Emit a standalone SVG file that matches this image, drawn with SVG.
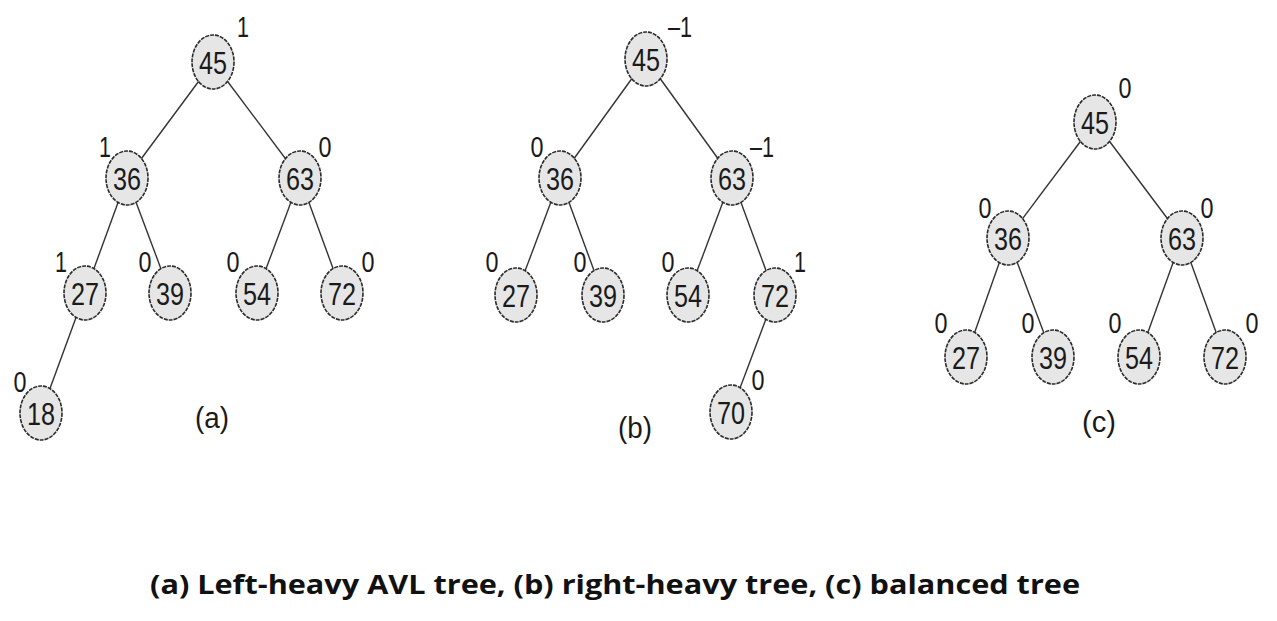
<svg xmlns="http://www.w3.org/2000/svg" width="1277" height="621" viewBox="0 0 1277 621">
<style>
.n ellipse{fill:#e6e6e6;stroke:#2a2a2a;stroke-width:1.6;stroke-dasharray:4 1}
.n text{font-family:"Liberation Sans",Arial,sans-serif;font-size:32px;fill:#1a1a1a;text-anchor:middle}
.b{font-family:"Liberation Sans",Arial,sans-serif;font-size:29px;fill:#1a1a1a;text-anchor:middle}
.lbl{font-family:"Liberation Sans",Arial,sans-serif;font-size:30px;fill:#1a1a1a;text-anchor:middle}
#edges line{stroke:#333;stroke-width:1.4}
.cap{font-family:"Open Sans","Liberation Sans",sans-serif;font-weight:bold;font-size:27px;fill:#111;text-anchor:middle}
</style>
<rect width="1277" height="621" fill="#fff"/>
<g id="edges">
<line x1="213" y1="62" x2="127" y2="178"/><line x1="213" y1="62" x2="300" y2="178"/>
<line x1="127" y1="178" x2="85" y2="293"/><line x1="127" y1="178" x2="170" y2="293"/>
<line x1="300" y1="178" x2="257" y2="293"/><line x1="300" y1="178" x2="342" y2="293"/>
<line x1="85" y1="293" x2="41" y2="413"/>
<line x1="646" y1="59" x2="560" y2="178"/><line x1="646" y1="59" x2="732" y2="178"/>
<line x1="560" y1="178" x2="516" y2="295"/><line x1="560" y1="178" x2="603" y2="295"/>
<line x1="732" y1="178" x2="688" y2="295"/><line x1="732" y1="178" x2="775" y2="295"/>
<line x1="775" y1="295" x2="731" y2="412"/>
<line x1="1095" y1="122" x2="1008" y2="238"/><line x1="1095" y1="122" x2="1182" y2="238"/>
<line x1="1008" y1="238" x2="966" y2="357"/><line x1="1008" y1="238" x2="1053" y2="357"/>
<line x1="1182" y1="238" x2="1139" y2="357"/><line x1="1182" y1="238" x2="1225" y2="357"/>
</g>
<!-- tree a -->
<g id="a45" class="n"><ellipse cx="213" cy="62" rx="21" ry="27"/><text x="213" y="74" textLength="28" lengthAdjust="spacingAndGlyphs">45</text></g>
<g id="a36" class="n"><ellipse cx="127" cy="178" rx="21" ry="27"/><text x="127" y="190" textLength="28" lengthAdjust="spacingAndGlyphs">36</text></g>
<g id="a63" class="n"><ellipse cx="300" cy="178" rx="21" ry="27"/><text x="300" y="190" textLength="28" lengthAdjust="spacingAndGlyphs">63</text></g>
<g id="a27" class="n"><ellipse cx="85" cy="293" rx="21" ry="27"/><text x="85" y="305" textLength="28" lengthAdjust="spacingAndGlyphs">27</text></g>
<g id="a39" class="n"><ellipse cx="170" cy="293" rx="21" ry="27"/><text x="170" y="305" textLength="28" lengthAdjust="spacingAndGlyphs">39</text></g>
<g id="a54" class="n"><ellipse cx="257" cy="293" rx="21" ry="27"/><text x="257" y="305" textLength="28" lengthAdjust="spacingAndGlyphs">54</text></g>
<g id="a72" class="n"><ellipse cx="342" cy="293" rx="21" ry="27"/><text x="342" y="305" textLength="28" lengthAdjust="spacingAndGlyphs">72</text></g>
<g id="a18" class="n"><ellipse cx="41" cy="413" rx="21" ry="27"/><text x="41" y="425" textLength="28" lengthAdjust="spacingAndGlyphs">18</text></g>
<g id="a-balance">
<text class="b" x="243" y="37" textLength="12" lengthAdjust="spacingAndGlyphs">1</text>
<text class="b" x="105" y="157" textLength="12" lengthAdjust="spacingAndGlyphs">1</text>
<text class="b" x="325" y="157" textLength="13" lengthAdjust="spacingAndGlyphs">0</text>
<text class="b" x="61" y="272" textLength="12" lengthAdjust="spacingAndGlyphs">1</text>
<text class="b" x="145" y="272" textLength="13" lengthAdjust="spacingAndGlyphs">0</text>
<text class="b" x="233" y="272" textLength="13" lengthAdjust="spacingAndGlyphs">0</text>
<text class="b" x="368" y="272" textLength="13" lengthAdjust="spacingAndGlyphs">0</text>
<text class="b" x="20" y="392" textLength="13" lengthAdjust="spacingAndGlyphs">0</text>
</g>
<text class="lbl" x="212" y="428" textLength="34" lengthAdjust="spacingAndGlyphs">(a)</text>
<!-- tree b -->
<g id="b45" class="n"><ellipse cx="646" cy="59" rx="21" ry="27"/><text x="646" y="71" textLength="28" lengthAdjust="spacingAndGlyphs">45</text></g>
<g id="b36" class="n"><ellipse cx="560" cy="178" rx="21" ry="27"/><text x="560" y="190" textLength="28" lengthAdjust="spacingAndGlyphs">36</text></g>
<g id="b63" class="n"><ellipse cx="732" cy="178" rx="21" ry="27"/><text x="732" y="190" textLength="28" lengthAdjust="spacingAndGlyphs">63</text></g>
<g id="b27" class="n"><ellipse cx="516" cy="295" rx="21" ry="27"/><text x="516" y="307" textLength="28" lengthAdjust="spacingAndGlyphs">27</text></g>
<g id="b39" class="n"><ellipse cx="603" cy="295" rx="21" ry="27"/><text x="603" y="307" textLength="28" lengthAdjust="spacingAndGlyphs">39</text></g>
<g id="b54" class="n"><ellipse cx="688" cy="295" rx="21" ry="27"/><text x="688" y="307" textLength="28" lengthAdjust="spacingAndGlyphs">54</text></g>
<g id="b72" class="n"><ellipse cx="775" cy="295" rx="21" ry="27"/><text x="775" y="307" textLength="28" lengthAdjust="spacingAndGlyphs">72</text></g>
<g id="b70" class="n"><ellipse cx="731" cy="412" rx="21" ry="27"/><text x="731" y="424" textLength="28" lengthAdjust="spacingAndGlyphs">70</text></g>
<g id="b-balance">
<text class="b" x="680" y="37" textLength="24" lengthAdjust="spacingAndGlyphs">–1</text>
<text class="b" x="537" y="157" textLength="13" lengthAdjust="spacingAndGlyphs">0</text>
<text class="b" x="762" y="157" textLength="24" lengthAdjust="spacingAndGlyphs">–1</text>
<text class="b" x="492" y="272" textLength="13" lengthAdjust="spacingAndGlyphs">0</text>
<text class="b" x="580" y="272" textLength="13" lengthAdjust="spacingAndGlyphs">0</text>
<text class="b" x="668" y="272" textLength="13" lengthAdjust="spacingAndGlyphs">0</text>
<text class="b" x="800" y="272" textLength="12" lengthAdjust="spacingAndGlyphs">1</text>
<text class="b" x="758" y="390" textLength="13" lengthAdjust="spacingAndGlyphs">0</text>
</g>
<text class="lbl" x="635" y="438" textLength="34" lengthAdjust="spacingAndGlyphs">(b)</text>
<!-- tree c -->
<g id="c45" class="n"><ellipse cx="1095" cy="122" rx="21" ry="27"/><text x="1095" y="134" textLength="28" lengthAdjust="spacingAndGlyphs">45</text></g>
<g id="c36" class="n"><ellipse cx="1008" cy="238" rx="21" ry="27"/><text x="1008" y="250" textLength="28" lengthAdjust="spacingAndGlyphs">36</text></g>
<g id="c63" class="n"><ellipse cx="1182" cy="238" rx="21" ry="27"/><text x="1182" y="250" textLength="28" lengthAdjust="spacingAndGlyphs">63</text></g>
<g id="c27" class="n"><ellipse cx="966" cy="357" rx="21" ry="27"/><text x="966" y="369" textLength="28" lengthAdjust="spacingAndGlyphs">27</text></g>
<g id="c39" class="n"><ellipse cx="1053" cy="357" rx="21" ry="27"/><text x="1053" y="369" textLength="28" lengthAdjust="spacingAndGlyphs">39</text></g>
<g id="c54" class="n"><ellipse cx="1139" cy="357" rx="21" ry="27"/><text x="1139" y="369" textLength="28" lengthAdjust="spacingAndGlyphs">54</text></g>
<g id="c72" class="n"><ellipse cx="1225" cy="357" rx="21" ry="27"/><text x="1225" y="369" textLength="28" lengthAdjust="spacingAndGlyphs">72</text></g>
<g id="c-balance">
<text class="b" x="1125" y="98" textLength="13" lengthAdjust="spacingAndGlyphs">0</text>
<text class="b" x="985" y="218" textLength="13" lengthAdjust="spacingAndGlyphs">0</text>
<text class="b" x="1207" y="218" textLength="13" lengthAdjust="spacingAndGlyphs">0</text>
<text class="b" x="941" y="333" textLength="13" lengthAdjust="spacingAndGlyphs">0</text>
<text class="b" x="1028" y="333" textLength="13" lengthAdjust="spacingAndGlyphs">0</text>
<text class="b" x="1115" y="333" textLength="13" lengthAdjust="spacingAndGlyphs">0</text>
<text class="b" x="1252" y="333" textLength="13" lengthAdjust="spacingAndGlyphs">0</text>
</g>
<text class="lbl" x="1099" y="432" textLength="34" lengthAdjust="spacingAndGlyphs">(c)</text>
<text class="cap" x="615" y="594" textLength="930" lengthAdjust="spacingAndGlyphs">(a) Left-heavy AVL tree, (b) right-heavy tree, (c) balanced tree</text>
</svg>
